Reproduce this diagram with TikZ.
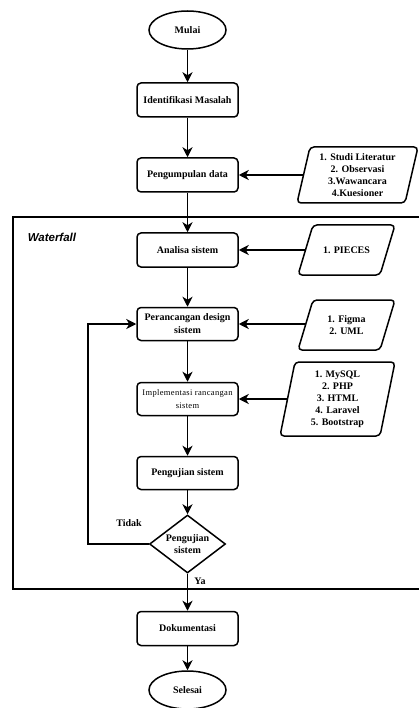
\documentclass[tikz,border=0pt]{standalone}
\usepackage{fontspec}
\setmainfont{Liberation Serif}
\newfontfamily\wfont{Liberation Sans}
\usetikzlibrary{arrows.meta,shapes.geometric}
\begin{document}
\begin{tikzpicture}[x=1pt,y=-1pt,
  line width=1.5pt,
  lbl/.style={font=\bfseries\fontsize{10}{13}\selectfont,align=center,inner sep=0pt},
  box/.style={lbl,draw,rounded corners=4pt,minimum width=101pt,minimum height=34pt},
  term/.style={lbl,draw,ellipse,minimum width=77pt,minimum height=38pt},
  dec/.style={lbl,draw,diamond,minimum width=76pt,minimum height=58pt,aspect=1.31,font=\bfseries\fontsize{10}{12}\selectfont},
  paratext/.style={lbl,font=\bfseries\fontsize{10}{12}\selectfont},
  para/.style={draw,rounded corners=4pt},
  frame/.style={draw,line width=1.3pt},
  arr/.style={-{Stealth[length=10pt,width=10pt,inset=3pt]}},
]
\useasboundingbox (0,0) rectangle (419,708);
\clip (0,0) rectangle (419,708);

% frame
\draw[frame] (13,217) rectangle (430,589);
\node[anchor=west,inner sep=0pt,font=\wfont\bfseries\itshape\fontsize{11.5}{13}\selectfont] (wf) at (27,237) {Waterfall};

% main column
\node[term] (mulai) at (187.5,30) {Mulai};
\node[box] (ident) at (187.5,100) {Identifikasi Masalah};
\node[box] (kumpul) at (187.5,175) {Pengumpulan data};
\node[box] (analisa) at (187.5,250) {Analisa sistem};
\node[box,minimum height=33pt] (rancang) at (187.5,324) {Perancangan design\\sistem};
\node[box,minimum height=33pt,font=\fontsize{8.5}{13}\selectfont\addfontfeatures{LetterSpace=4}] (impl) at (187.5,399) {Implementasi rancangan\\sistem};
\node[box,minimum height=33pt] (uji) at (187.5,473) {Pengujian sistem};
\node[dec] (cek) at (187.5,544) {Pengujian\\sistem};
\node[box] (dok) at (187.5,628.5) {Dokumentasi};
\node[term] (selesai) at (187.5,690) {Selesai};

% parallelograms (inputs)
\draw[para] (297,203) -- (310,147) -- (418,147) -- (405,203) -- cycle;
\node[paratext] (p1) at (357.5,175) {1. Studi Literatur\\2. Observasi\\3.Wawancara\\4.Kuesioner};
\coordinate (p1w) at (303.5,175);

\draw[para] (298,275) -- (313,225) -- (395,225) -- (380,275) -- cycle;
\node[paratext] (p2) at (346.5,250) {1. PIECES};
\coordinate (p2w) at (305.5,250);

\draw[para] (298,350) -- (313,300) -- (395,300) -- (380,350) -- cycle;
\node[paratext] (p3) at (346.5,325) {1. Figma\\2. UML};
\coordinate (p3w) at (305.5,324);

\draw[para] (280,436) -- (295,362) -- (395,362) -- (380,436) -- cycle;
\node[paratext] (p4) at (337.5,399) {1. MySQL\\2. PHP\\3. HTML\\4. Laravel\\5. Bootstrap};
\coordinate (p4w) at (287.5,399);

\coordinate (fb) at (88,544);

% connectors
\draw[arr] (mulai) -- (ident);
\draw[arr] (ident) -- (kumpul);
\draw[arr] (p1w) -- (kumpul.east);
\draw[arr] (kumpul) -- (analisa);
\draw[arr] (p2w) -- (analisa.east);
\draw[arr] (analisa) -- (rancang);
\draw[arr] (p3w) -- (rancang.east);
\draw[arr] (rancang) -- (impl);
\draw[arr] (p4w) -- (impl.east);
\draw[arr] (impl) -- (uji);
\draw[arr] (uji) -- (cek);
\draw[arr] (cek.west) -- (fb) |- (rancang.west);
\draw[arr] (cek) -- (dok);
\draw[arr] (dok) -- (selesai);

\node[lbl] (tidak) at (129,523) {Tidak};
\node[lbl] (ya) at (200,581) {Ya};
\end{tikzpicture}
\end{document}
